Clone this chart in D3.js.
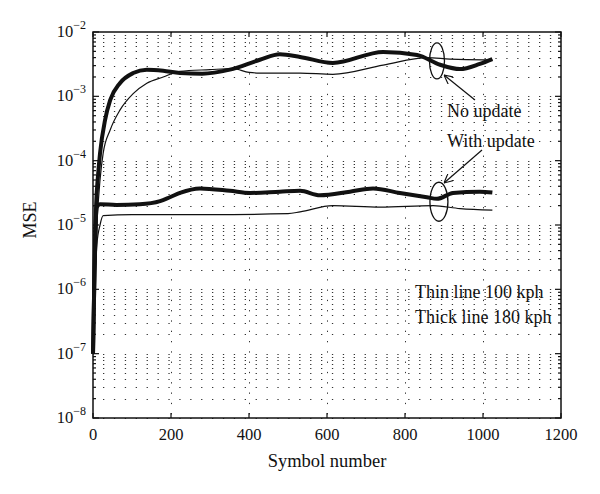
<!DOCTYPE html>
<html>
<head>
<meta charset="utf-8">
<script src="https://cdn.jsdelivr.net/npm/d3@7"></script>
<style>
  body { margin: 0; background: #fff; }
  text { font-family: "Liberation Serif", "DejaVu Serif", serif; fill: #111; }
</style>
</head>
<body>
<script>
// values (symbol number, MSE)
var thickNoUpdX = [0, 3, 8, 13, 18, 31, 44, 69, 103, 138, 180, 223, 280, 351, 428, 479, 531, 615, 744, 831, 890, 941, 992, 1024];
var thickNoUpdY = [1e-7, 1e-6, 2e-5, 6e-5, 1.3e-4, 4.3e-4, 8.7e-4, 1.6e-3, 2.3e-3, 2.6e-3, 2.5e-3, 2.3e-3, 2.25e-3, 2.6e-3, 3.7e-3, 4.5e-3, 4.1e-3, 3.3e-3, 4.9e-3, 4.4e-3, 3.1e-3, 2.65e-3, 3.2e-3, 3.8e-3];

var thinNoUpdX = [0, 4, 10, 18, 26, 44, 69, 103, 138, 180, 223, 300, 360, 400, 428, 531, 615, 744, 856, 915, 1000, 1024];
var thinNoUpdY = [3e-7, 1e-6, 1e-5, 5e-5, 1.3e-4, 3e-4, 6.1e-4, 1.1e-3, 1.6e-3, 2e-3, 2.45e-3, 2.6e-3, 2.7e-3, 2.35e-3, 2.3e-3, 2.3e-3, 2.2e-3, 3.05e-3, 4e-3, 3.8e-3, 3.7e-3, 3.7e-3];

var thickUpdX = [0, 3, 6, 10, 18, 60, 120, 172, 197, 223, 274, 351, 403, 479, 531, 582, 659, 718, 787, 856, 882, 923, 992, 1024];
var thickUpdY = [1e-7, 1e-6, 8e-6, 1.9e-5, 2.1e-5, 2.05e-5, 2.1e-5, 2.35e-5, 2.7e-5, 3.15e-5, 3.7e-5, 3.4e-5, 3.15e-5, 3.3e-5, 3.4e-5, 2.9e-5, 3.3e-5, 3.7e-5, 3.15e-5, 2.7e-5, 2.55e-5, 3.15e-5, 3.3e-5, 3.2e-5];

var thinUpdX = [0, 4, 10, 18, 26, 100, 300, 500, 531, 615, 736, 872, 941, 1024];
var thinUpdY = [3e-7, 1e-6, 5e-6, 1e-5, 1.4e-5, 1.45e-5, 1.45e-5, 1.5e-5, 1.6e-5, 2e-5, 1.9e-5, 2e-5, 1.8e-5, 1.7e-5];

var xTicks = [0, 200, 400, 600, 800, 1000, 1200];
var yExps = [-8, -7, -6, -5, -4, -3, -2];

var width = 600, height = 494;
var mLeft = 93, mRight = 561, mTop = 32, mBottom = 418;

var svg = d3.select("body").append("svg")
  .attr("width", width)
  .attr("height", height);

var x = d3.scaleLinear().domain([0, 1200]).range([mLeft, mRight]);
var y = d3.scaleLog().domain([1e-8, 1e-2]).range([mBottom, mTop]);

// grid: dotted rows at every log tick, dotted columns at major x ticks
var rows = [];
for (var e = -8; e < -2; e++) {
  for (var m = 1; m < 10; m++) rows.push(m * Math.pow(10, e));
}
svg.append("g").selectAll("line").data(rows).enter().append("line")
  .attr("x1", mLeft).attr("x2", mRight)
  .attr("y1", function (d) { return Math.round(y(d)) + 0.5; })
  .attr("y2", function (d) { return Math.round(y(d)) + 0.5; })
  .attr("stroke", "#333")
  .attr("stroke-width", 1)
  .attr("stroke-dasharray", "1.3,9.6")
  .attr("stroke-dashoffset", -10);

svg.append("g").selectAll("line").data(xTicks.slice(1, -1)).enter().append("line")
  .attr("x1", function (d) { return Math.round(x(d)) + 0.5; })
  .attr("x2", function (d) { return Math.round(x(d)) + 0.5; })
  .attr("y1", mTop).attr("y2", mBottom)
  .attr("stroke", "#333")
  .attr("stroke-width", 1)
  .attr("stroke-dasharray", "1.3,9");

// frame
svg.append("rect")
  .attr("x", mLeft).attr("y", mTop)
  .attr("width", mRight - mLeft).attr("height", mBottom - mTop)
  .attr("fill", "none").attr("stroke", "#111").attr("stroke-width", 1.5);

// ticks
var tk = svg.append("g").attr("stroke", "#111").attr("stroke-width", 1.2);
xTicks.forEach(function (t) {
  tk.append("line").attr("x1", x(t)).attr("x2", x(t)).attr("y1", mBottom).attr("y2", mBottom - 5);
  tk.append("line").attr("x1", x(t)).attr("x2", x(t)).attr("y1", mTop).attr("y2", mTop + 5);
});
rows.concat([1e-2]).forEach(function (d) {
  var len = (Math.abs(Math.log10(d) - Math.round(Math.log10(d))) < 1e-9) ? 6 : 3;
  tk.append("line").attr("x1", mLeft).attr("x2", mLeft + len).attr("y1", y(d)).attr("y2", y(d));
  tk.append("line").attr("x1", mRight).attr("x2", mRight - len).attr("y1", y(d)).attr("y2", y(d));
});

// tick labels
svg.append("g").selectAll("text").data(xTicks).enter().append("text")
  .attr("x", function (d) { return x(d); })
  .attr("y", mBottom + 22)
  .attr("text-anchor", "middle")
  .attr("font-size", 16.5)
  .text(function (d) { return d; });

var yl = svg.append("g").selectAll("text").data(yExps).enter().append("text")
  .attr("x", 86)
  .attr("y", function (d) { return y(Math.pow(10, d)) + 5; })
  .attr("text-anchor", "end")
  .attr("font-size", 16.5);
yl.append("tspan").text("10");
yl.append("tspan").attr("dy", -8).attr("font-size", 12)
  .text(function (d) { return "\u2212" + Math.abs(d); });

svg.append("text")
  .attr("x", (mLeft + mRight) / 2).attr("y", 467)
  .attr("text-anchor", "middle").attr("font-size", 18.5)
  .text("Symbol number");

svg.append("text")
  .attr("transform", "translate(36," + ((mTop + mBottom) / 2 - 5) + ") rotate(-90)")
  .attr("text-anchor", "middle").attr("font-size", 18)
  .text("MSE");

// curves
var line = d3.line()
  .x(function (d) { return x(d[0]); })
  .y(function (d) { return y(d[1]); })
  .curve(d3.curveMonotoneX);

function pairs(xs, ys) { return xs.map(function (v, i) { return [v, ys[i]]; }); }

var series = [
  { d: pairs(thinNoUpdX, thinNoUpdY), w: 1.2 },
  { d: pairs(thinUpdX, thinUpdY), w: 1.2 },
  { d: pairs(thickNoUpdX, thickNoUpdY), w: 4 },
  { d: pairs(thickUpdX, thickUpdY), w: 4 }
];
svg.append("g").selectAll("path").data(series).enter().append("path")
  .attr("d", function (s) { return line(s.d); })
  .attr("fill", "none")
  .attr("stroke", "#111")
  .attr("stroke-width", function (s) { return s.w; })
  .attr("stroke-linejoin", "round");

// annotations
svg.append("defs").append("marker")
  .attr("id", "arr").attr("viewBox", "0 0 10 10")
  .attr("refX", 10).attr("refY", 5)
  .attr("markerWidth", 9).attr("markerHeight", 9)
  .attr("markerUnits", "userSpaceOnUse")
  .attr("orient", "auto")
  .append("path").attr("d", "M0,0 L10,5 L0,10")
  .attr("fill", "none").attr("stroke", "#111").attr("stroke-width", 1.3);

var ell = [
  { cx: 882, cy: 3.55e-3, rx: 7.5, ry: 18 },
  { cx: 887, cy: 2.3e-5, rx: 9, ry: 19.5 }
];
svg.append("g").selectAll("ellipse").data(ell).enter().append("ellipse")
  .attr("cx", function (d) { return x(d.cx); })
  .attr("cy", function (d) { return y(d.cy); })
  .attr("rx", function (d) { return d.rx; })
  .attr("ry", function (d) { return d.ry; })
  .attr("fill", "none").attr("stroke", "#111").attr("stroke-width", 1.3);

svg.append("line").attr("x1", 475).attr("y1", 100).attr("x2", 444).attr("y2", 75)
  .attr("stroke", "#111").attr("stroke-width", 1.2).attr("marker-end", "url(#arr)");
svg.append("line").attr("x1", 482).attr("y1", 150).attr("x2", 444).attr("y2", 183)
  .attr("stroke", "#111").attr("stroke-width", 1.2).attr("marker-end", "url(#arr)");

var notes = [
  { t: "No update", x: 447, y: 117 },
  { t: "With update", x: 447, y: 147 },
  { t: "Thin line 100 kph", x: 415, y: 298 },
  { t: "Thick line 180 kph", x: 415, y: 323 }
];
svg.append("g").selectAll("text").data(notes).enter().append("text")
  .attr("x", function (d) { return d.x; })
  .attr("y", function (d) { return d.y; })
  .attr("font-size", 18)
  .text(function (d) { return d.t; });
</script>
</body>
</html>
